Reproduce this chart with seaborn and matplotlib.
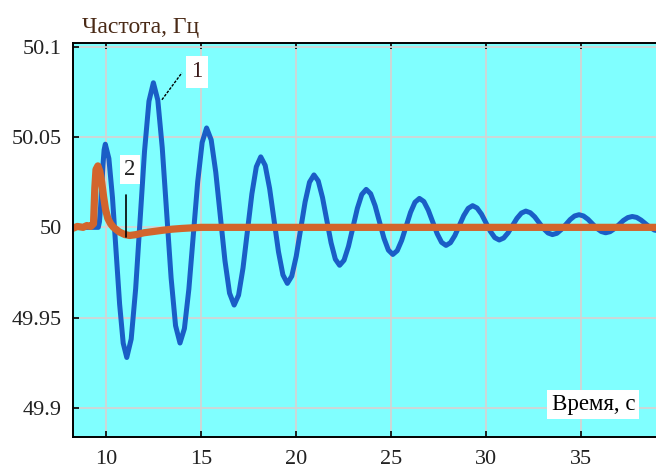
# -*- coding: utf-8 -*-
"""Частота сети после возмущения: кривые 1 и 2."""

import matplotlib

matplotlib.use("Agg")
import matplotlib.pyplot as plt
import pandas as pd
import seaborn as sns

# кривая 1 (синяя) - затухающие колебания, по полупериодам
t_curve1 = [
    8.27, 9.0, 9.6,
    9.662, 9.723, 9.785, 9.847, 9.908, 9.97,
    10.158, 10.347, 10.535, 10.723, 10.912, 11.1,
    11.333, 11.567, 11.8, 12.033, 12.267, 12.5,
    12.733, 12.967, 13.2, 13.433, 13.667, 13.9,
    14.133, 14.367, 14.6, 14.833, 15.067, 15.3,
    15.542, 15.783, 16.025, 16.267, 16.508, 16.75,
    16.983, 17.217, 17.45, 17.683, 17.917, 18.15,
    18.383, 18.617, 18.85, 19.083, 19.317, 19.55,
    19.783, 20.017, 20.25, 20.483, 20.717, 20.95,
    21.175, 21.4, 21.625, 21.85, 22.075, 22.3,
    22.533, 22.767, 23.0, 23.233, 23.467, 23.7,
    23.933, 24.167, 24.4, 24.633, 24.867, 25.1,
    25.333, 25.567, 25.8, 26.033, 26.267, 26.5,
    26.733, 26.967, 27.2, 27.433, 27.667, 27.9,
    28.133, 28.367, 28.6, 28.833, 29.067, 29.3,
    29.533, 29.767, 30.0, 30.233, 30.467, 30.7,
    30.933, 31.167, 31.4, 31.633, 31.867, 32.1,
    32.333, 32.567, 32.8, 33.033, 33.267, 33.5,
    33.733, 33.967, 34.2, 34.433, 34.667, 34.9,
    35.133, 35.367, 35.6, 35.833, 36.067, 36.3,
    36.533, 36.767, 37.0, 37.233, 37.467, 37.7,
    37.933, 38.167, 38.4, 38.633, 38.867, 39.1,
]
f_curve1 = [
    50.0, 50.0, 50.0,
    50.0031, 50.0115, 50.023, 50.0345, 50.0429, 50.046,
    50.0381, 50.0165, 49.987, 49.9575, 49.9359, 49.928,
    49.9382, 49.966, 50.004, 50.042, 50.0698, 50.080,
    50.0704, 50.044, 50.008, 49.972, 49.9456, 49.936,
    49.944, 49.9658, 49.9955, 50.0253, 50.047, 50.055,
    50.0484, 50.0305, 50.006, 49.9815, 49.9636, 49.957,
    49.9625, 49.9775, 49.998, 50.0185, 50.0335, 50.039,
    50.0343, 50.0215, 50.004, 49.9865, 49.9737, 49.969,
    49.973, 49.984, 49.999, 50.014, 50.025, 50.029,
    50.0257, 50.0165, 50.004, 49.9915, 49.9824, 49.979,
    49.9818, 49.9895, 50.0, 50.0105, 50.0182, 50.021,
    50.0186, 50.012, 50.003, 49.994, 49.9874, 49.985,
    49.9871, 49.9928, 50.0005, 50.0083, 50.0139, 50.016,
    50.0143, 50.0095, 50.003, 49.9965, 49.9917, 49.990,
    49.9915, 49.9955, 50.001, 50.0065, 50.0105, 50.012,
    50.0107, 50.0073, 50.0025, 49.9978, 49.9943, 49.993,
    49.9941, 49.997, 50.001, 50.005, 50.0079, 50.009,
    50.0081, 50.0058, 50.0025, 49.9993, 49.9969, 49.996,
    49.9967, 49.9988, 50.0015, 50.0043, 50.0063, 50.007,
    50.0063, 50.0045, 50.002, 49.9995, 49.9977, 49.997,
    49.9976, 49.9993, 50.0015, 50.0038, 50.0054, 50.006,
    50.0055, 50.004, 50.002, 50.0, 49.9985, 49.998,
]

# кривая 2 (оранжевая)
t_curve2 = [
    8.27, 8.5, 8.8, 9.0, 9.2, 9.35, 9.42, 9.48, 9.58, 9.68, 9.78,
    9.88, 9.98, 10.1, 10.25, 10.4, 10.7, 11.0, 11.25, 11.6, 12.0,
    12.5, 13.0, 13.5, 14.0, 14.5, 15.0, 16.0, 20.0, 30.0, 39.0,
]
f_curve2 = [
    49.9995, 50.0005, 50.0, 50.001, 50.0005, 50.002, 50.022, 50.032,
    50.034, 50.031, 50.025, 50.017, 50.010, 50.005, 50.002, 50.0,
    49.9975, 49.996, 49.9955, 49.996, 49.997, 49.9977, 49.9984,
    49.999, 49.9994, 49.9997, 50.0, 50.0, 50.0, 50.0, 50.0,
]

x_ticks = [10, 15, 20, 25, 30, 35]
y_ticks = [49.9, 49.95, 50.0, 50.05, 50.1]
y_tick_labels = ["49.9", "49.95", "50", "50.05", "50.1"]

sns.set_style(
    "whitegrid",
    {
        "axes.facecolor": "#80ffff",
        "grid.color": "#d4d4d4",
        "axes.edgecolor": "black",
    },
)
plt.rcParams["font.family"] = ["Liberation Serif", "DejaVu Serif"]

fig = plt.figure(figsize=(6.56, 4.69), dpi=100)
ax = fig.add_axes([73 / 656, 32 / 469, 1 - 73 / 656, (437 - 43) / 469])

df1 = pd.DataFrame({"t": t_curve1, "f": f_curve1})
df2 = pd.DataFrame({"t": t_curve2, "f": f_curve2})
sns.lineplot(data=df1, x="t", y="f", ax=ax, color="#1a5ec6", linewidth=3.6,
             estimator=None, sort=False, solid_joinstyle="round")
sns.lineplot(data=df2, x="t", y="f", ax=ax, color="#d2652c", linewidth=5.2,
             estimator=None, sort=False, solid_joinstyle="round")

ax.set_xlim(8.27, 38.95)
ax.set_ylim(49.884, 50.102)
ax.set_xticks(x_ticks)
ax.set_xticklabels([str(v) for v in x_ticks])
ax.set_yticks(y_ticks)
ax.set_yticklabels(y_tick_labels)
ax.set_xlabel("")
ax.set_ylabel("")
ax.grid(True, linewidth=1.3)

for side in ["left", "top", "bottom"]:
    ax.spines[side].set_color("black")
    ax.spines[side].set_linewidth(1.4)
ax.spines["right"].set_visible(False)

ax.tick_params(axis="both", direction="in", length=4, width=1.2, color="black",
               labelsize=16, labelcolor="#222222", top=True, left=True,
               bottom=True)
ax.tick_params(axis="y", pad=8)
ax.tick_params(axis="x", pad=9)

# подписи осей
fig.text(82 / 656, 1 - 27 / 469, "Частота, Гц", fontsize=17,
         color="#4a2a16", ha="left", va="center")
ax.text(37.85, 49.902, "Время, с", fontsize=16.5, color="black",
        ha="right", va="center",
        bbox=dict(facecolor="white", edgecolor="none", pad=3))

# номера кривых
ax.plot([12.95, 14.0], [50.0706, 50.0855], color="black", linewidth=1.0,
        linestyle=(0, (2, 1)))
ax.text(14.8, 50.086, "1", fontsize=16.5, color="#3a1a1a", ha="center",
        va="center", bbox=dict(facecolor="white", edgecolor="none", pad=4))
ax.plot([11.05, 11.05], [50.0178, 49.9945], color="black", linewidth=1.2)
ax.text(11.26, 50.032, "2", fontsize=16.5, color="#222222", ha="center",
        va="center", bbox=dict(facecolor="white", edgecolor="none", pad=3))

fig.savefig("out.png", dpi=100)
